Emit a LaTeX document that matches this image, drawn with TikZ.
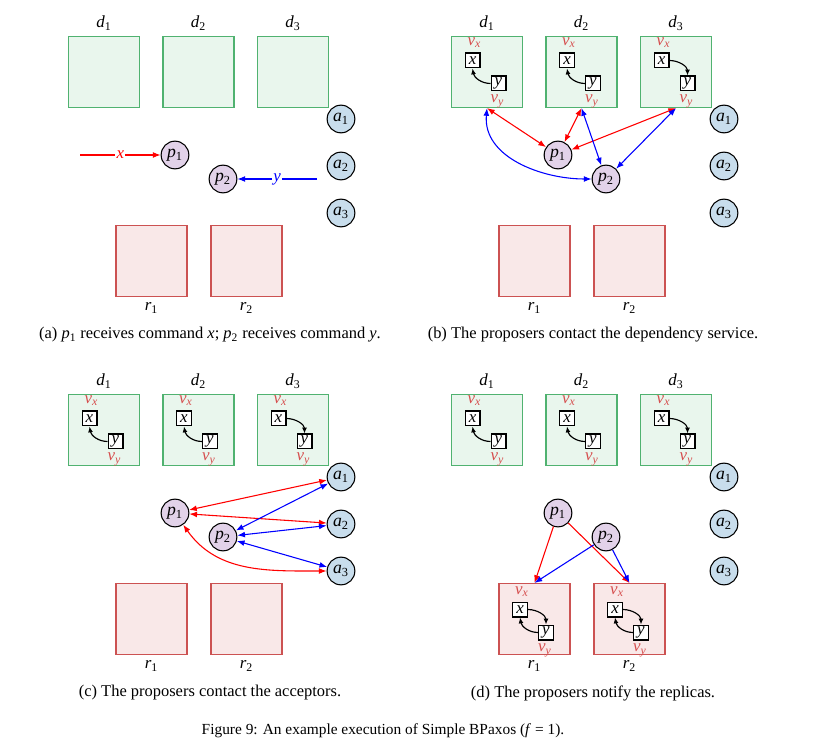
\documentclass[tikz,border=0pt]{standalone}
\usepackage{fontspec}
\setmainfont{Liberation Serif}
\usetikzlibrary{arrows.meta}
\definecolor{dline}{RGB}{80,178,112}
\definecolor{dfill}{RGB}{233,246,237}
\definecolor{rline}{RGB}{204,82,82}
\definecolor{rfill}{RGB}{249,232,232}
\definecolor{afill}{RGB}{200,221,236}
\definecolor{pfill}{RGB}{226,210,233}
\definecolor{vred}{RGB}{214,78,78}
\newcommand\mv[2]{\textit{#1}\textsubscript{#2}}
\tikzset{
  dbox/.style={draw=dline, fill=dfill, line width=0.9pt, minimum size=46pt, inner sep=0pt},
  rbox/.style={draw=rline, fill=rfill, line width=0.9pt, minimum size=46pt, inner sep=0pt},
  acc/.style={circle, draw=black, fill=afill, line width=0.7pt, minimum size=18pt, inner sep=0pt, font=\fontsize{11.5}{13}\selectfont},
  prop/.style={circle, draw=black, fill=pfill, line width=0.7pt, minimum size=18pt, inner sep=0pt, font=\fontsize{11.5}{13}\selectfont},
  cmd/.style={draw=black, fill=white, line width=0.9pt, minimum size=9.5pt, inner sep=0pt, font=\fontsize{11}{13}\selectfont},
  vlab/.style={text=vred, inner sep=0pt, font=\fontsize{11}{13}\selectfont},
  lbl/.style={inner sep=0pt, font=\fontsize{11}{13}\selectfont},
  capt/.style={inner sep=0pt, font=\fontsize{10.7}{13}\selectfont},
  dep/.style={-{Latex[length=3.8pt,width=3.2pt]}, line width=0.75pt},
  conn/.style={line width=0.7pt, >={Latex[length=5pt,width=3.8pt]}},
  rc/.style={conn, red},
  bc/.style={conn, blue},
}
\newcommand\panelbase[1]{%
  \node[dbox] (#1d1) at (104,72) {};
  \node[dbox] (#1d2) at (198.5,72) {};
  \node[dbox] (#1d3) at (293,72) {};
  \node[lbl] (#1d1l) at (104,23) {\mv{d}{1}};
  \node[lbl] (#1d2l) at (198.5,23) {\mv{d}{2}};
  \node[lbl] (#1d3l) at (293,23) {\mv{d}{3}};
  \node[rbox] (#1r1) at (151.5,261) {};
  \node[rbox] (#1r2) at (246.5,261) {};
  \node[lbl] (#1r1l) at (151.5,308) {\mv{r}{1}};
  \node[lbl] (#1r2l) at (246.5,308) {\mv{r}{2}};
  \node[acc] (#1a1) at (341,119) {\mv{a}{1}};
  \node[acc] (#1a2) at (341,166) {\mv{a}{2}};
  \node[acc] (#1a3) at (341,213) {\mv{a}{3}};
  \node[prop] (#1p1) at (175,155) {\mv{p}{1}};
  \node[prop] (#1p2) at (223,179) {\mv{p}{2}};
}
\newcommand\deps[4]{%
  \node[vlab] (#1vx) at (#2-12.5,#3-29.5) {\mv{v}{\textit{x}}};
  \node[cmd] (#1x) at (#2-14.5,#3-11.5) {\textit{x}};
  \node[cmd] (#1y) at (#2+11.5,#3+11.5) {\textit{y}};
  \node[vlab] (#1vy) at (#2+10.5,#3+29.5) {\mv{v}{\textit{y}}};
  \ifcase#4\or
    \draw[dep] (#1y.west) to[out=180,in=-80] (#1x.south);
  \or
    \draw[dep] (#1x.east) to[out=0,in=90] (#1y.north);
  \or
    \draw[dep] (#1x.east) to[out=0,in=90] (#1y.north);
    \draw[dep] (#1y.west) to[out=180,in=-80] (#1x.south);
  \fi}
\begin{document}
\begin{tikzpicture}[x=0.65pt,y=-0.65pt]
\useasboundingbox (0,0) rectangle (838,746);
% (a)
\begin{scope}
  \panelbase{a}
  \coordinate (ax0) at (80,155);
  \coordinate (ay0) at (317,179);
  \draw[rc,->] (ax0) -- node[fill=white,inner sep=0.8pt,text=red,font=\fontsize{11}{13}\selectfont] (axl) {\textit{x}} (ap1);
  \draw[bc,->] (ay0) -- node[fill=white,inner sep=0.8pt,text=blue,font=\fontsize{11}{13}\selectfont] (ayl) {\textit{y}} (ap2);
  \node[capt] (acap) at (210,335) {(a) \mv{p}{1} receives command \textit{x}; \mv{p}{2} receives command \textit{y}.};
\end{scope}
% (b)
\begin{scope}[shift={(383,0)}]
  \panelbase{b}
  \deps{bd1}{104}{72}{1}
  \deps{bd2}{198.5}{72}{1}
  \deps{bd3}{293}{72}{2}
  \draw[rc,<->] (bd1.south) -- (bp1);
  \draw[rc,<->] (bd2.south) -- (bp1);
  \draw[rc,<->] (bd3.south) -- (bp1);
  \draw[bc,<->] (bd1.south) to[out=-95,in=180] (bp2);
  \draw[bc,<->] (bd2.south) -- (bp2);
  \draw[bc,<->] (bd3.south) -- (bp2);
  \node[capt] (bcap) at (210,335) {(b) The proposers contact the dependency service.};
\end{scope}
% (c)
\begin{scope}[shift={(0,358)}]
  \panelbase{c}
  \deps{cd1}{104}{72}{1}
  \deps{cd2}{198.5}{72}{1}
  \deps{cd3}{293}{72}{2}
  \draw[rc,<->] (cp1) -- (ca1);
  \draw[rc,<->] (cp1) -- (ca2);
  \draw[rc,<->] (cp1) to[out=-55,in=180] (ca3);
  \draw[bc,<->] (cp2) -- (ca1);
  \draw[bc,<->] (cp2) -- (ca2);
  \draw[bc,<->] (cp2) -- (ca3);
  \node[capt] (ccap) at (210,335) {(c) The proposers contact the acceptors.};
\end{scope}
% (d)
\begin{scope}[shift={(383,358)}]
  \panelbase{d}
  \deps{dd1}{104}{72}{1}
  \deps{dd2}{198.5}{72}{1}
  \deps{dd3}{293}{72}{2}
  \deps{dr1}{151.5}{263}{3}
  \deps{dr2}{246.5}{263}{3}
  \draw[rc,->] (dp1) -- (dr1.north);
  \draw[rc,->] (dp1) -- (dr2.north);
  \draw[bc,->] (dp2) -- (dr1.north);
  \draw[bc,->] (dp2) -- (dr2.north);
  \node[capt] (dcap) at (210,335) {(d) The proposers notify the replicas.};
\end{scope}
\node[capt,font=\fontsize{10}{12}\selectfont] (figcap) at (383,731) {Figure 9: An example execution of Simple BPaxos (\textit{f} = 1).};
\end{tikzpicture}
\end{document}
